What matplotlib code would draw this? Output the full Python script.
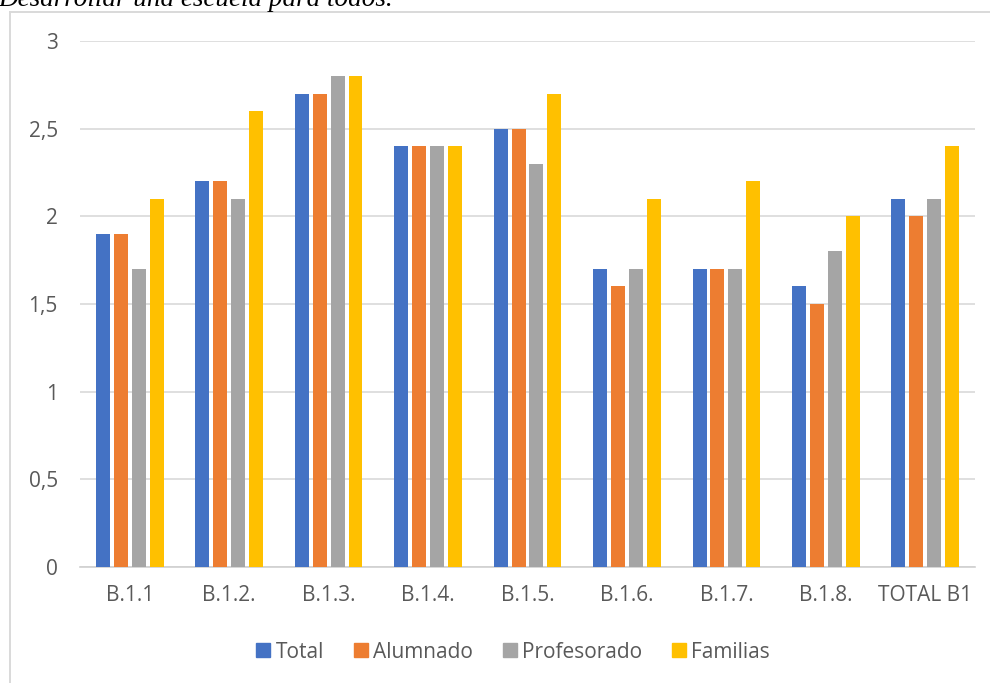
import matplotlib
matplotlib.use("Agg")
import matplotlib.pyplot as plt
from matplotlib.lines import Line2D
from matplotlib.ticker import FuncFormatter
import numpy as np

categories = ["B.1.1", "B.1.2.", "B.1.3.", "B.1.4.", "B.1.5.", "B.1.6.", "B.1.7.", "B.1.8.", "TOTAL B1"]
series_names = ["Total", "Alumnado", "Profesorado", "Familias"]
total = [1.9, 2.2, 2.7, 2.4, 2.5, 1.7, 1.7, 1.6, 2.1]
alumnado = [1.9, 2.2, 2.7, 2.4, 2.5, 1.6, 1.7, 1.5, 2.0]
profesorado = [1.7, 2.1, 2.8, 2.4, 2.3, 1.7, 1.7, 1.8, 2.1]
familias = [2.1, 2.6, 2.8, 2.4, 2.7, 2.1, 2.2, 2.0, 2.4]
colors = ["#4472C4", "#ED7D31", "#A5A5A5", "#FFC000"]
title = "Desarrollar una escuela para todos."

font = "Open Sans"
txt = "#595959"
fs = 15

fig = plt.figure(figsize=(9.9, 6.83), dpi=100)
ax = fig.add_axes([80/990, 1-567/683, (975-80)/990, (567-41)/683])

x = np.arange(len(categories))
w = 0.14
step = 0.18
for i, (vals, c, n) in enumerate(zip([total, alumnado, profesorado, familias], colors, series_names)):
    ax.bar(x + (i - 1.5) * step, vals, width=w, color=c, label=n, zorder=3)

ax.set_xlim(-0.5, len(categories) - 0.5)
ax.set_ylim(0, 3)
ax.set_yticks([0, 0.5, 1, 1.5, 2, 2.5, 3])
ax.yaxis.set_major_formatter(FuncFormatter(lambda v, p: ("%g" % v).replace(".", ",")))
ax.set_xticks(x)
ax.set_xticklabels(categories)
ax.grid(axis="y", color="#d9d9d9", linewidth=1.2, zorder=0)
for s in ["top", "right", "left"]:
    ax.spines[s].set_visible(False)
ax.spines["bottom"].set_color("#d0d0d0")
ax.spines["bottom"].set_linewidth(1.2)
ax.tick_params(axis="both", length=0, labelsize=fs, labelcolor=txt)
ax.tick_params(axis="y", pad=16)
ax.tick_params(axis="x", pad=13)
for lab in ax.get_xticklabels() + ax.get_yticklabels():
    lab.set_fontfamily(font)

handles = [Line2D([0], [0], marker="s", linestyle="none", markersize=10, markerfacecolor=c,
                  markeredgecolor=c) for c in colors]
fig.legend(handles, series_names, loc="center", bbox_to_anchor=(512/990, 1-652/683), ncol=4,
           frameon=False, prop={"family": font, "size": fs}, labelcolor=txt,
           handletextpad=0.15, columnspacing=1.3, handlelength=0.9)

# chart frame
fig.add_artist(Line2D([10/990, 10/990], [0, 1-12/683], transform=fig.transFigure, color="#d9d9d9", linewidth=1.4))
fig.add_artist(Line2D([10/990, 1], [1-12/683, 1-12/683], transform=fig.transFigure, color="#d9d9d9", linewidth=1.4))

fig.text(-0.002, 1-6/683, title, fontfamily="Liberation Serif", fontstyle="italic", fontsize=19.5,
         color="black", ha="left", va="baseline")

fig.savefig("out.png", dpi=100)
